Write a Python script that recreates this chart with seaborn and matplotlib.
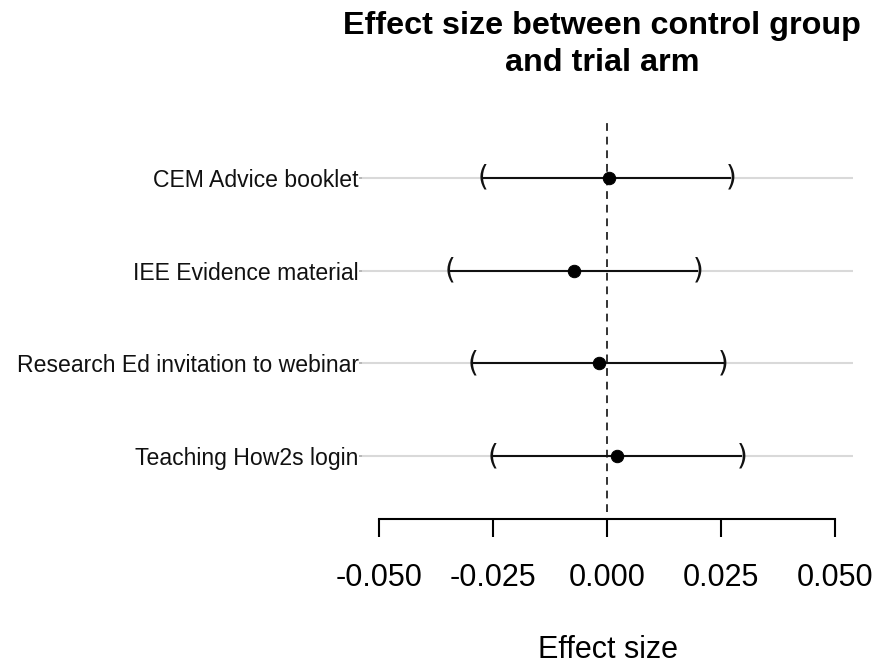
import matplotlib
matplotlib.use("Agg")
import matplotlib.pyplot as plt
import seaborn as sns
import pandas as pd

arms = ["CEM Advice booklet", "IEE Evidence material",
        "Research Ed invitation to webinar", "Teaching How2s login"]
effect = [0.0004, -0.0071, -0.0017, 0.0023]
lower = [-0.0271, -0.0344, -0.0293, -0.0250]
upper = [0.0273, 0.0201, 0.0256, 0.0296]
xticks = [-0.050, -0.025, 0.000, 0.025, 0.050]
xtick_labels = ["-0.050", "-0.025", "0.000", "0.025", "0.050"]

df = pd.DataFrame({"arm": arms, "effect": effect, "lower": lower, "upper": upper})

sns.set_theme(style="white")
plt.rcParams["font.family"] = ["Liberation Sans", "DejaVu Sans"]
plt.rcParams["text.color"] = "black"

W, H = 881, 664
fig = plt.figure(figsize=(W / 100, H / 100), dpi=100)
ax = fig.add_axes([362 / W, 1 - 512 / H, (853 - 362) / W, (512 - 122) / H])

ypos = list(range(len(arms)))
for y in ypos:
    ax.axhline(y, color="#d9d9d9", lw=1.5, zorder=0)

ax.axvline(0, color="#333333", lw=1.4, ls=(0, (4, 3)), zorder=1)

ax.hlines(ypos, df["lower"], df["upper"], color="#111111", lw=1.5, zorder=2)
for y, lo, hi in zip(ypos, df["lower"], df["upper"]):
    ax.text(lo, y, "(", ha="center", va="center", fontsize=20, color="#111111",
            family="DejaVu Sans", zorder=3)
    ax.text(hi, y, ")", ha="center", va="center", fontsize=20, color="#111111",
            family="DejaVu Sans", zorder=3)

sns.scatterplot(data=df, x="effect", y=ypos, ax=ax, color="black", s=80,
                edgecolor="black", zorder=4, legend=False)

for s in ["top", "right", "left"]:
    ax.spines[s].set_visible(False)
ax.spines["bottom"].set_position(("outward", 5))
ax.spines["bottom"].set_bounds(-0.05, 0.05)
ax.spines["bottom"].set_color("black")
ax.spines["bottom"].set_linewidth(1.5)

ax.set_xlim(-0.0537, 0.054)
ax.set_ylim(3.6, -0.6)
ax.set_yticks(ypos)
ax.set_yticklabels(arms, fontsize=16.6, color="#111111")
ax.set_xticks(xticks)
ax.set_xticklabels(xtick_labels, fontsize=22, color="black")

ax.tick_params(axis="x", direction="out", length=13, width=1.5, color="black", pad=19, bottom=True)
ax.tick_params(axis="y", direction="out", length=2, width=1.2, color="#aaaaaa", pad=0.5, left=True)

ax.set_xlabel("Effect size", fontsize=22, labelpad=30, color="black")
ax.set_ylabel("")
fig.text(602 / W, 1 - 26 / H, "Effect size between control group", fontsize=23.3,
         fontweight="bold", ha="center", va="center", color="black")
fig.text(602 / W, 1 - 63 / H, "and trial arm", fontsize=23.3,
         fontweight="bold", ha="center", va="center", color="black")

fig.savefig("out.png", dpi=100)
